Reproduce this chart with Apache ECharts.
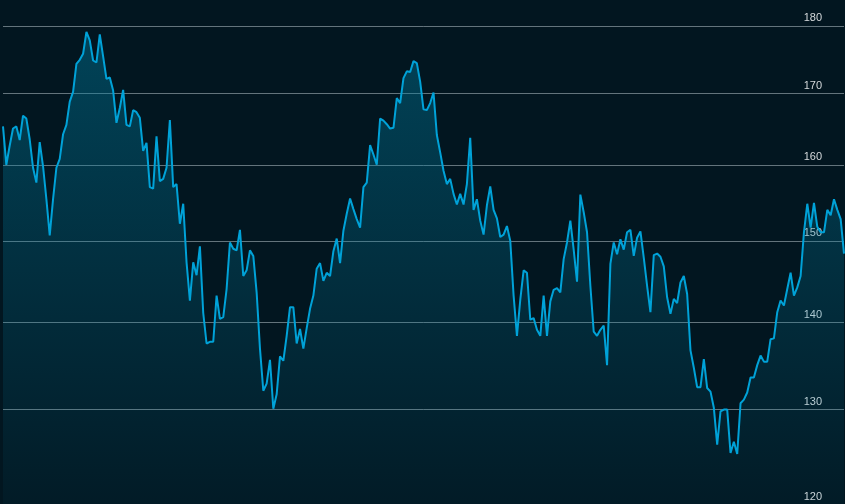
<!DOCTYPE html>
<html>
<head>
<meta charset="utf-8">
<title>price</title>
<script src="https://cdn.jsdelivr.net/npm/echarts@6/dist/echarts.min.js"></script>
<style>
  html, body { margin: 0; padding: 0; background: #021620; }
  #chart { width: 845px; height: 504px; }
</style>
</head>
<body>
<div id="chart"></div>
<script>
// daily closes
const prices = [
  165.3, 160.0, 162.6, 165.0, 165.3, 163.4, 166.8, 166.4, 163.5, 159.6,
  157.6, 163.1, 159.8, 155.4, 150.7, 155.4, 159.6, 160.8, 164.2, 165.5,
  168.8, 170.2, 174.3, 174.9, 175.8, 179.1, 177.8, 174.8, 174.5, 178.7,
  175.4, 172.1, 172.3, 170.4, 165.8, 167.9, 170.5, 165.5, 165.3, 167.6,
  167.3, 166.5, 161.9, 163.0, 157.0, 156.8, 163.9, 157.8, 158.1, 159.6,
  166.2, 157.0, 157.4, 152.2, 154.8, 147.3, 142.6, 147.3, 145.7, 149.3,
  141.1, 137.5, 137.7, 137.7, 143.2, 140.4, 140.6, 144.0, 149.8, 149.0,
  148.8, 151.4, 145.6, 146.3, 148.8, 148.1, 143.6, 136.9, 132.1, 132.9,
  135.6, 130.1, 131.7, 136.0, 135.5, 138.4, 141.8, 141.8, 137.5, 139.2,
  136.9, 139.3, 141.6, 143.2, 146.5, 147.2, 145.0, 146.0, 145.6, 148.7,
  150.3, 147.2, 151.3, 153.5, 155.5, 154.1, 152.8, 151.7, 157.0, 157.6,
  162.7, 161.4, 160.0, 166.4, 166.1, 165.6, 165.0, 165.1, 169.3, 168.6,
  172.2, 173.2, 173.1, 174.7, 174.4, 171.7, 167.7, 167.6, 168.6, 170.1,
  164.1, 161.7, 159.2, 157.4, 158.1, 156.1, 154.7, 156.1, 154.7, 157.4,
  163.7, 154.0, 155.4, 152.6, 150.8, 154.6, 157.1, 154.0, 152.9, 150.5,
  150.8, 151.9, 150.0, 143.2, 138.4, 142.7, 146.3, 146.0, 140.3, 140.5,
  139.1, 138.4, 143.2, 138.4, 142.5, 143.9, 144.1, 143.6, 147.7, 149.8,
  152.6, 148.9, 144.9, 156.0, 153.7, 151.1, 144.4, 138.9, 138.4, 139.1,
  139.6, 135.0, 147.1, 149.8, 148.3, 150.2, 148.9, 151.1, 151.4, 148.1,
  150.4, 151.2, 147.9, 144.4, 141.2, 148.2, 148.4, 148.0, 146.8, 143.0,
  141.0, 142.8, 142.3, 144.8, 145.6, 143.4, 136.7, 134.7, 132.5, 132.5,
  135.7, 132.4, 132.0, 130.2, 126.2, 129.8, 130.0, 130.0, 125.3, 126.5,
  125.2, 130.7, 131.1, 131.9, 133.6, 133.6, 135.0, 136.1, 135.4, 135.4,
  138.0, 138.1, 141.2, 142.6, 142.0, 144.0, 146.0, 143.2, 144.2, 145.6,
  151.1, 154.8, 151.7, 154.9, 151.8, 151.1, 151.1, 154.0, 153.3, 155.4,
  154.0, 152.8, 148.4
];

// one category per session, no labels are shown
const days = prices.map((v, i) => 'D' + (i + 1));

const priceTicks = [120, 130, 140, 150, 160, 170, 180];
const gridTicks = [130, 140, 150, 160, 170, 180];

const myChart = echarts.init(document.getElementById('chart'));

const option = {
  backgroundColor: '#021620',
  animation: false,
  grid: {
    left: 3,
    right: 1,
    top: 0,
    bottom: 0,
    containLabel: false,
    outerBoundsMode: 'none'
  },
  xAxis: {
    type: 'category',
    data: days,
    boundaryGap: false,
    show: false
  },
  yAxis: {
    type: 'log',
    position: 'right',
    min: 120,
    max: 184,
    axisLine: { show: false },
    axisTick: { show: false, customValues: gridTicks },
    axisLabel: {
      inside: true,
      margin: 22,
      customValues: priceTicks,
      color: '#d4d8da',
      fontSize: 11,
      fontFamily: 'Liberation Sans',
      verticalAlign: 'bottom',
      padding: [0, 0, 2, 0]
    },
    splitLine: {
      show: true,
      lineStyle: { color: 'rgba(180,195,200,0.55)', width: 1 }
    }
  },
  series: [
    {
      type: 'line',
      data: prices,
      symbol: 'none',
      lineStyle: { color: '#00a2d8', width: 2 },
      itemStyle: { color: '#00a2d8' },
      areaStyle: {
        origin: 'start',
        color: new echarts.graphic.LinearGradient(0, 0, 0, 1, [
          { offset: 0, color: 'rgba(0,129,165,0.6)' },
          { offset: 1, color: 'rgba(0,129,165,0.07)' }
        ])
      }
    }
  ]
};

myChart.setOption(option);
</script>
</body>
</html>
